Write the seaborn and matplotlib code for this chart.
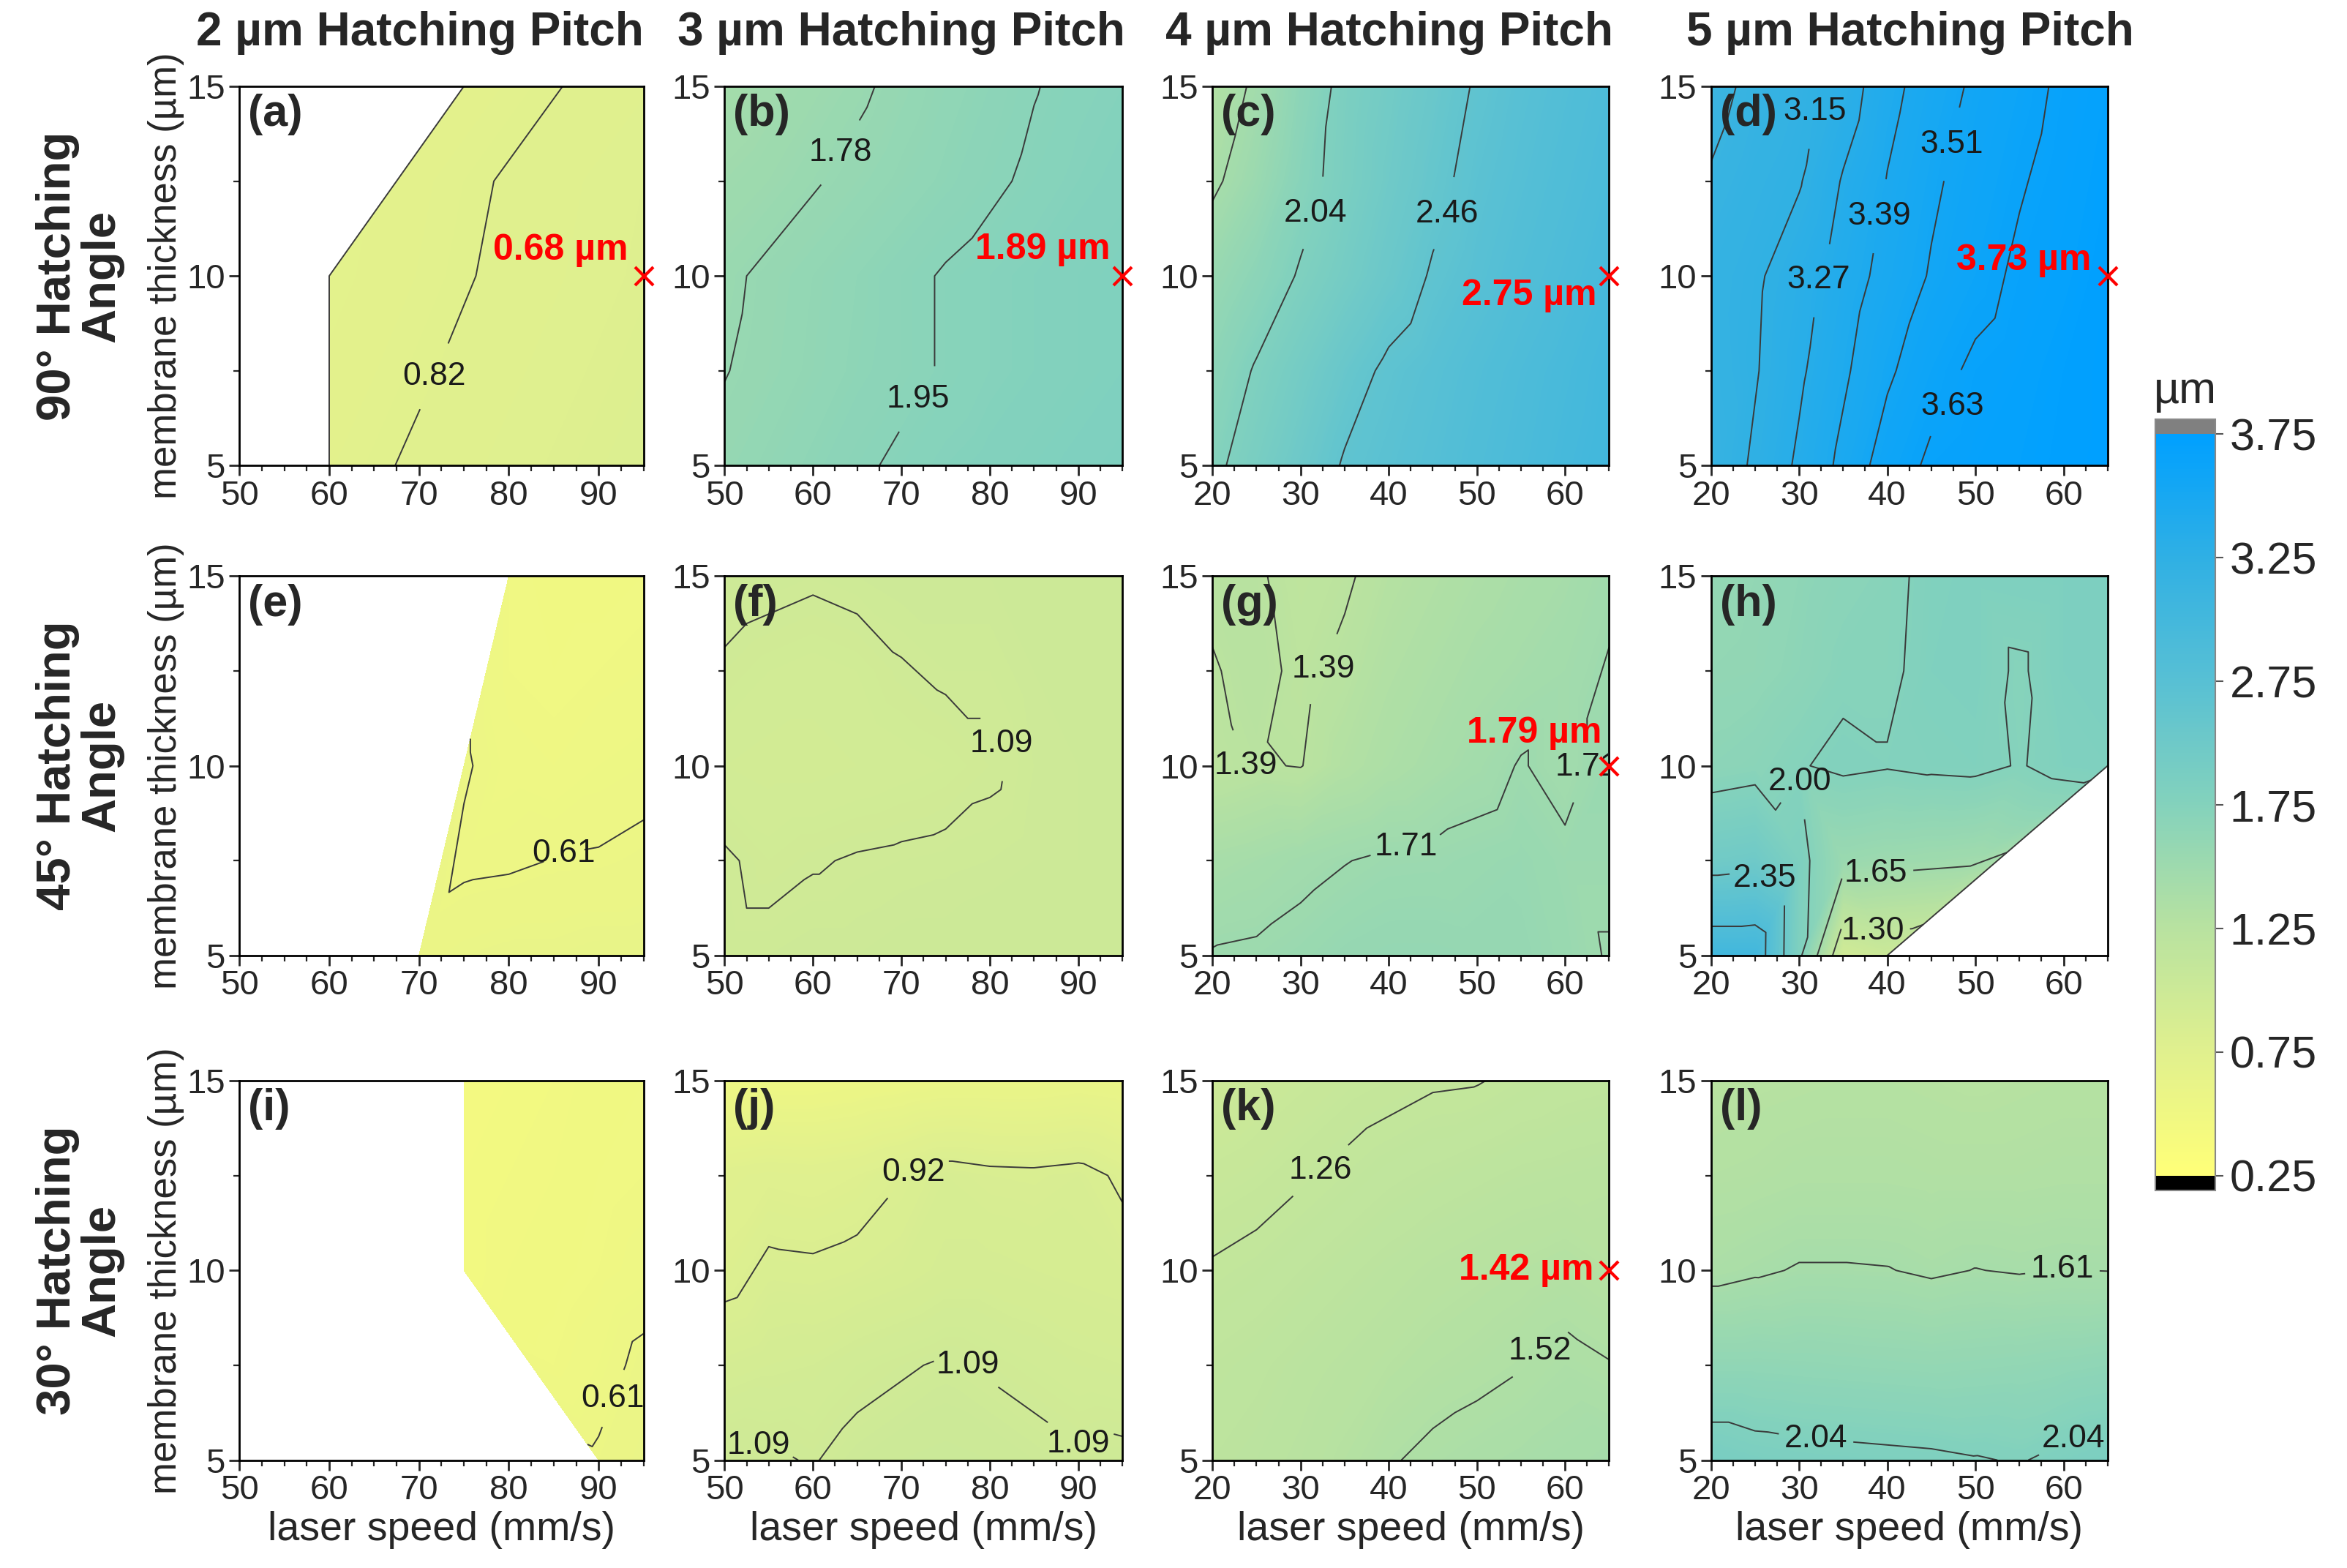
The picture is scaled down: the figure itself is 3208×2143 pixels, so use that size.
import numpy as np
import matplotlib
matplotlib.use("Agg")
import matplotlib.pyplot as plt
import matplotlib.tri as mtri
from matplotlib.colors import Normalize
from matplotlib.cm import ScalarMappable
from matplotlib.ticker import MultipleLocator
import seaborn as sns

nan = np.nan

# -----------------------------
# DATA
# -----------------------------
pitch_titles = ["2 µm Hatching Pitch", "3 µm Hatching Pitch",
                "4 µm Hatching Pitch", "5 µm Hatching Pitch"]
angle_labels = ["90° Hatching\nAngle", "45° Hatching\nAngle", "30° Hatching\nAngle"]
letters = list("abcdefghijkl")

speed_fast = [50, 55, 60, 65, 70, 75, 80, 85, 90, 95]   # 2 and 3 um pitch
speed_slow = [20, 25, 30, 35, 40, 45, 50, 55, 60, 65]   # 4 and 5 um pitch
thickness = [5, 7.5, 10, 12.5, 15]

cbar_labels = [0.25, 0.75, 1.25, 1.75, 2.75, 3.25, 3.75]
cbar_colors = ["#ffff78", "#e0f08e", "#b8e2a0", "#84d2bc", "#58c0d4", "#30b0e4", "#00a0ff"]

# pore size (um), rows = thickness 5..15, cols = laser speed
z_a = [[nan, nan, .798, .813, .828, .843, .858, .873, .888, .903],
       [nan, nan, .784, .799, .814, .829, .844, .859, .874, .889],
       [nan, nan, .771, .786, .801, .816, .831, .846, .861, .876],
       [nan, nan, nan, nan, .795, .810, .825, .840, .855, .870],
       [nan, nan, nan, nan, nan, .787, .802, .817, .832, .847]]
z_b = [[1.81, 1.85, 1.89, 1.93, 1.97, 2.00, 2.02, 2.04, 2.06, 2.08],
       [1.776, 1.81, 1.85, 1.89, 1.92, 1.96, 1.99, 2.01, 2.03, 2.05],
       [1.76, 1.80, 1.84, 1.88, 1.92, 1.96, 1.99, 2.01, 2.03, 2.05],
       [1.70, 1.73, 1.77, 1.81, 1.85, 1.89, 1.93, 1.97, 2.00, 2.02],
       [1.64, 1.68, 1.72, 1.76, 1.81, 1.86, 1.90, 1.945, 1.98, 2.00]]
z_c = [[1.99, 2.15, 2.31, 2.48, 2.55, 2.62, 2.70, 2.77, 2.84, 2.90],
       [1.90, 2.06, 2.21, 2.37, 2.50, 2.58, 2.66, 2.74, 2.81, 2.88],
       [1.77, 1.91, 2.06, 2.20, 2.34, 2.48, 2.58, 2.67, 2.75, 2.83],
       [1.58, 1.75, 1.96, 2.12, 2.27, 2.40, 2.53, 2.62, 2.70, 2.78],
       [1.48, 1.66, 1.90, 2.10, 2.23, 2.35, 2.48, 2.58, 2.66, 2.74]]
z_d = [[3.06, 3.17, 3.29, 3.42, 3.57, 3.65, 3.68, 3.70, 3.73, 3.75],
       [3.08, 3.14, 3.25, 3.37, 3.49, 3.59, 3.65, 3.68, 3.72, 3.75],
       [3.09, 3.13, 3.22, 3.33, 3.43, 3.52, 3.59, 3.65, 3.69, 3.74],
       [3.04, 3.10, 3.14, 3.28, 3.395, 3.49, 3.56, 3.62, 3.67, 3.72],
       [2.99, 3.06, 3.11, 3.20, 3.35, 3.45, 3.53, 3.59, 3.65, 3.70]]
z_e = [[nan, nan, nan, nan, 0.64, 0.66, 0.67, 0.67, 0.68, 0.68],
       [nan, nan, nan, nan, nan, 0.595, 0.60, 0.612, 0.615, 0.625],
       [nan, nan, nan, nan, nan, 0.62, 0.57, 0.56, 0.58, 0.59],
       [nan, nan, nan, nan, nan, nan, 0.55, 0.54, 0.55, 0.56],
       [nan, nan, nan, nan, nan, nan, 0.55, 0.53, 0.53, 0.54]]
z_f = [[1.11, 1.11, 1.12, 1.12, 1.13, 1.13, 1.14, 1.13, 1.13, 1.14],
       [1.10, 1.07, 1.085, 1.095, 1.10, 1.105, 1.11, 1.12, 1.12, 1.13],
       [1.04, 1.03, 1.03, 1.04, 1.05, 1.06, 1.08, 1.11, 1.12, 1.13],
       [1.08, 1.06, 1.05, 1.06, 1.085, 1.10, 1.10, 1.12, 1.13, 1.13],
       [1.12, 1.11, 1.10, 1.11, 1.12, 1.12, 1.12, 1.13, 1.13, 1.14]]
z_g = [[1.72, 1.73, 1.76, 1.80, 1.82, 1.82, 1.81, 1.80, 1.76, 1.70],
       [1.60, 1.63, 1.67, 1.705, 1.735, 1.74, 1.76, 1.78, 1.74, 1.74],
       [1.36, 1.40, 1.385, 1.48, 1.55, 1.60, 1.65, 1.72, 1.66, 1.76],
       [1.38, 1.43, 1.36, 1.42, 1.50, 1.55, 1.60, 1.63, 1.66, 1.72],
       [1.42, 1.41, 1.33, 1.37, 1.45, 1.50, 1.55, 1.59, 1.62, 1.68]]
z_h = [[2.90, 2.90, 2.06, 1.06, 1.15, nan, nan, nan, nan, nan],
       [2.25, 2.28, 2.08, 1.75, 1.72, 1.70, 1.68, nan, nan, nan],
       [1.90, 1.93, 1.99, 2.03, 2.01, 2.03, 2.04, 1.99, 2.05, 2.07],
       [1.84, 1.85, 1.90, 1.97, 1.97, 2.05, 2.06, 1.98, 2.08, 2.10],
       [1.82, 1.84, 1.88, 1.93, 1.96, 2.04, 2.06, 2.07, 2.08, 2.10]]
z_i = [[nan, nan, nan, nan, nan, nan, nan, nan, 0.62, 0.66],
       [nan, nan, nan, nan, nan, nan, nan, 0.55, 0.58, 0.63],
       [nan, nan, nan, nan, nan, 0.50, 0.52, 0.53, 0.55, 0.57],
       [nan, nan, nan, nan, nan, 0.50, 0.51, 0.52, 0.54, 0.55],
       [nan, nan, nan, nan, nan, 0.49, 0.50, 0.51, 0.53, 0.54]]
z_j = [[1.11, 1.10, 1.085, 1.12, 1.14, 1.15, 1.14, 1.12, 1.10, 1.11],
       [1.00, 1.02, 1.03, 1.06, 1.08, 1.10, 1.08, 1.06, 1.04, 1.03],
       [0.88, 0.94, 0.935, 0.95, 0.97, 1.00, 1.00, 0.99, 0.98, 0.97],
       [0.84, 0.86, 0.85, 0.87, 0.915, 0.97, 0.95, 0.945, 0.96, 0.90],
       [0.56, 0.58, 0.58, 0.60, 0.62, 0.64, 0.64, 0.64, 0.66, 0.64]]
z_k = [[1.36, 1.38, 1.41, 1.45, 1.51, 1.545, 1.57, 1.59, 1.61, 1.63],
       [1.33, 1.35, 1.38, 1.41, 1.44, 1.47, 1.49, 1.515, 1.55, 1.525],
       [1.27, 1.29, 1.32, 1.35, 1.38, 1.41, 1.43, 1.45, 1.47, 1.44],
       [1.20, 1.22, 1.25, 1.28, 1.31, 1.33, 1.35, 1.37, 1.38, 1.39],
       [1.12, 1.15, 1.18, 1.21, 1.23, 1.25, 1.255, 1.28, 1.30, 1.31]]
z_l = [[2.16, 2.12, 2.10, 2.09, 2.08, 2.07, 2.05, 2.03, 2.08, 2.12],
       [1.86, 1.86, 1.85, 1.84, 1.83, 1.82, 1.83, 1.84, 1.86, 1.88],
       [1.56, 1.59, 1.62, 1.62, 1.615, 1.59, 1.613, 1.60, 1.612, 1.608],
       [1.47, 1.48, 1.50, 1.50, 1.50, 1.49, 1.49, 1.49, 1.50, 1.50],
       [1.42, 1.43, 1.44, 1.45, 1.45, 1.44, 1.43, 1.44, 1.45, 1.45]]

# labelled iso-lines and plain (unlabelled) iso-lines per panel
labels_a, plain_a = [0.82], []
labels_b, plain_b = [1.78, 1.95], []
labels_c, plain_c = [2.04, 2.46], [1.62]
labels_d, plain_d = [3.15, 3.27, 3.39, 3.51, 3.63], [3.03]
labels_e, plain_e = [0.61], []
labels_f, plain_f = [1.09], []
labels_g, plain_g = [1.39, 1.71], []
labels_h, plain_h = [1.30, 1.65, 2.00, 2.35], [2.70]
labels_i, plain_i = [0.61], []
labels_j, plain_j = [0.92, 1.09], []
labels_k, plain_k = [1.26, 1.52], []
labels_l, plain_l = [1.61, 2.04], []

# edge of the printable window (only drawn where the figure shows it)
edge_a_speed, edge_a_thick = [60, 60, 75], [5, 10, 15]
edge_h_speed, edge_h_thick = [40, 65], [5, 10]

# red marked points
best_panels = ["a", "b", "c", "d", "g", "k"]
best_speed = [95, 95, 65, 65, 65, 65]
best_thick = [10, 10, 10, 10, 10, 10]
best_value = ["0.68", "1.89", "2.75", "3.73", "1.79", "1.42"]

# -----------------------------
# STYLE
# -----------------------------
sns.set_theme(style="ticks")
plt.rcParams["font.family"] = ["Liberation Sans", "DejaVu Sans"]
plt.rcParams["axes.linewidth"] = 2.0
LINE_C = "#3a3a3a"

cmap = sns.blend_palette(cbar_colors, n_colors=256, as_cmap=True)
cmap = cmap.with_extremes(under="black", over="#808080")
norm = Normalize(vmin=cbar_labels[0], vmax=cbar_labels[-1])
fill_levels = np.arange(0.20, 3.82, 0.01)

panel_z = dict(zip(letters, [z_a, z_b, z_c, z_d, z_e, z_f, z_g, z_h, z_i, z_j, z_k, z_l]))
panel_labels = dict(zip(letters, [labels_a, labels_b, labels_c, labels_d, labels_e, labels_f,
                                  labels_g, labels_h, labels_i, labels_j, labels_k, labels_l]))
panel_plain = dict(zip(letters, [plain_a, plain_b, plain_c, plain_d, plain_e, plain_f,
                                 plain_g, plain_h, plain_i, plain_j, plain_k, plain_l]))
# where the contour labels sit (speed, thickness)
label_spots = {
    "a": [(72, 7.3)],
    "b": [(62, 13.4), (73, 6.6)],
    "c": [(31, 11.7), (47, 11.6)],
    "d": [(32.5, 14.3), (32, 9.9), (38.5, 11.6), (46.7, 13.5), (48.5, 6.5)],
    "e": [(86, 8.1)],
    "f": [(82, 10.6)],
    "g": [(24, 10.0), (32, 12.6), (42, 7.8), (62, 10.0)],
    "h": [(31, 9.6), (26, 7.0), (38.7, 7.2), (38.9, 6.1)],
    "i": [(91, 6.9)],
    "j": [(72, 12.2), (78, 7.7), (54, 5.5), (90, 5.4)],
    "k": [(32, 12.7), (57, 7.9)],
    "l": [(60, 9.9), (32, 5.8), (61, 5.6)],
}
annot_offset = {"a": (-15, 25), "b": (-12, 26), "c": (-12, -19),
                "d": (-16, 15), "g": (-7, 32), "k": (-15, 0)}
edges = {"a": (edge_a_speed, edge_a_thick), "h": (edge_h_speed, edge_h_thick)}

col_left = [0.1020, 0.3087, 0.5166, 0.7290]
col_width = [0.1722, 0.1696, 0.1690, 0.1690]
row_bottom = [0.7030, 0.3906, 0.0688]
row_height = 0.242

fig = plt.figure(figsize=(32.08, 21.43), dpi=100)

for r in range(3):
    for c in range(4):
        key = letters[r * 4 + c]
        speeds = speed_fast if c < 2 else speed_slow
        ax = fig.add_axes([col_left[c], row_bottom[r], col_width[c], row_height])

        X, Y = np.meshgrid(speeds, thickness)
        Z = np.asarray(panel_z[key], dtype=float)
        ok = ~np.isnan(Z)
        tri = mtri.Triangulation(X[ok], Y[ok])
        ax.tricontourf(tri, Z[ok], levels=fill_levels, cmap=cmap, norm=norm)
        if panel_plain[key]:
            ax.tricontour(tri, Z[ok], levels=panel_plain[key], colors=LINE_C, linewidths=1.4)
        cs = ax.tricontour(tri, Z[ok], levels=panel_labels[key], colors=LINE_C, linewidths=1.4)
        ax.clabel(cs, fmt="%.2f", fontsize=32, colors="k",
                  manual=label_spots[key], inline=True, inline_spacing=8)
        for t in cs.labelTexts:
            t.set_rotation(0)

        if key in edges:
            ex, ey = edges[key]
            ax.plot(ex, ey, color=LINE_C, lw=1.4)

        if key in best_panels:
            i = best_panels.index(key)
            ax.plot(best_speed[i], best_thick[i], "x", color="red", ms=18, mew=3,
                    clip_on=False, zorder=6)
            ax.annotate(best_value[i] + " µm", (best_speed[i], best_thick[i]),
                        xytext=annot_offset[key], textcoords="offset points",
                        ha="right", va="center", color="red", fontsize=36,
                        fontweight="bold", zorder=6)

        ax.text(0.022, 0.98, f"({key})", transform=ax.transAxes, ha="left", va="top",
                fontsize=44, fontweight="bold")

        ax.set_xlim(speeds[0], speeds[-1])
        ax.set_ylim(thickness[0], thickness[-1])
        ax.xaxis.set_major_locator(MultipleLocator(10))
        ax.xaxis.set_minor_locator(MultipleLocator(2.5))
        ax.yaxis.set_major_locator(MultipleLocator(5))
        ax.yaxis.set_minor_locator(MultipleLocator(2.5))
        ax.tick_params(which="major", direction="out", length=10, width=2, labelsize=34,
                       top=False, right=False, pad=4)
        ax.tick_params(which="minor", direction="out", length=6, width=1.6,
                       top=False, right=False)
        for s in ax.spines.values():
            s.set_color("black")
            s.set_linewidth(2)

        if c == 0:
            ax.set_ylabel("membrane thickness (µm)", fontsize=38, labelpad=2)
        if r == 2:
            ax.set_xlabel("laser speed (mm/s)", fontsize=40, labelpad=4)

# column and row headings
title_x = [0.179, 0.384, 0.592, 0.814]
for c in range(4):
    fig.text(title_x[c], 0.979, pitch_titles[c], ha="center", va="center",
             fontsize=46, fontweight="bold")
for r in range(3):
    fig.text(0.034, row_bottom[r] + row_height / 2, angle_labels[r], rotation=90,
             ha="center", va="center", fontsize=47, fontweight="bold",
             multialignment="center", linespacing=1.0)

# colorbar
cax = fig.add_axes([0.9184, 0.2407, 0.0255, 0.4919])
cb_pos = np.arange(len(cbar_labels))
sm = ScalarMappable(norm=Normalize(cb_pos[0], cb_pos[-1]), cmap=cmap)
cb = fig.colorbar(sm, cax=cax, extend="both", extendrect=True, extendfrac=0.02,
                  ticks=cb_pos)
cb.set_ticklabels([f"{v:.2f}" for v in cbar_labels])
cb.outline.set_edgecolor("#888888")
cb.outline.set_linewidth(1.5)
cax.tick_params(labelsize=44, length=8, width=1.5, color="#555555", pad=6)
cax.set_title("µm", fontsize=44, pad=16)

fig.savefig("out.png", dpi=100)
